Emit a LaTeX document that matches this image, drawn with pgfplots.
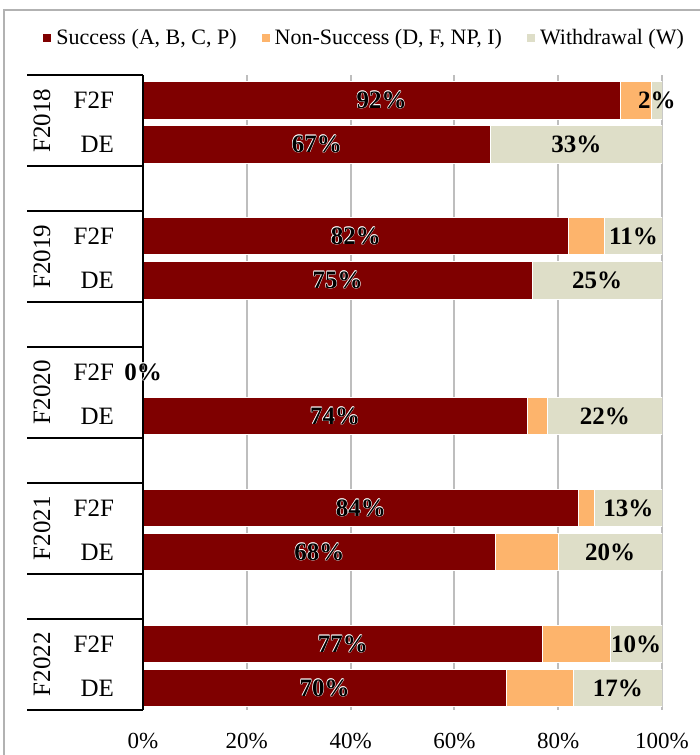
\documentclass[border=0pt]{standalone}
\usepackage{pgfplots}
\pgfplotsset{compat=1.18}
\usepackage{pgfplotstable}
\usepackage{fontspec}
\setmainfont{Liberation Serif}

\definecolor{succ}{HTML}{7F0000}
\definecolor{nons}{HTML}{FDB46C}
\definecolor{wdr}{HTML}{DEDEC8}
\definecolor{gridc}{HTML}{BEBEBE}

% black text with a thin white halo, as on the success bars
\newcommand\gl[3]{\rlap{\kern#1\raisebox{#2}{\textcolor{white}{#3}}}}
\newcommand\glow[1]{%
  \gl{-0.3pt}{0pt}{#1}\gl{0pt}{0.3pt}{#1}\gl{-0.22pt}{0.22pt}{#1}%
  \gl{0.2pt}{0pt}{#1}\gl{0pt}{-0.2pt}{#1}%
  \textcolor{black}{#1}}

% pos: bar position (F2F, DE per term); S success, N non-success, W withdrawal (%)
\pgfplotstableread{
pos   S  N  W
0     92 6  2
1     67 0  33
3.09  82 7  11
4.09  75 0  25
6.18  0  0  0
7.18  74 4  22
9.27  84 3  13
10.27 68 12 20
12.36 77 13 10
13.36 70 13 17
}\results

\pgfplotsset{
  chartbox/.style={
    at={(O)}, anchor=south west,
    scale only axis, width=259.5pt, height=317.5pt,
    xmin=0, xmax=100, ymin=-0.57, ymax=13.86, y dir=reverse,
  },
}

\begin{document}
\begin{tikzpicture}
\begin{scope}[x=0.5pt,y=-0.5pt]
  \coordinate (O) at (143,710);
\end{scope}

\begin{axis}[
  chartbox,
  xbar stacked, bar width=0.86,
  axis line style={draw=none}, major tick length=0,
  xtick={0,20,...,100}, ytick=\empty,
  xticklabel={\pgfmathprintnumber{\tick}\%},
  /pgf/number format/assume math mode=true,
  tick label style={font=\fontsize{11.5}{13}\selectfont},
  xticklabel style={yshift=-8pt},
  xmajorgrids, grid style={gridc, line width=1pt},
  legend style={at={(0.428,1.058)}, anchor=center, draw=none, fill=none,
    legend columns=3, font=\fontsize{11}{13}\selectfont,
    /tikz/every even column/.append style={column sep=10pt}},
  legend image code/.code={\fill[#1] (0pt,-2.3pt) rectangle (4.5pt,2.3pt);},
  every axis plot/.append style={draw=white, line width=0.5pt},
]
\addplot[fill=succ] table[x=S, y=pos] {\results};
\addplot[fill=nons] table[x=N, y=pos] {\results};
\addplot[fill=wdr]  table[x=W, y=pos] {\results};
\legend{{Success (A, B, C, P)}, {Non-Success (D, F, NP, I)}, {Withdrawal (W)}}
\end{axis}

\begin{scope}[x=0.5pt,y=-0.5pt]
  \draw[gray!60, line width=0.6pt] (4,770) -- (4,10) -- (710,10);
  \foreach \p/\yr in {0/F2018, 3.09/F2019, 6.18/F2020, 9.27/F2021, 12.36/F2022} {
    \pgfmathsetmacro\c{100+44*\p}
    \draw[line width=1pt] (27,\c-25) -- (143,\c-25);
    \draw[line width=1pt] (27,\c+66) -- (143,\c+66);
    \node[rotate=90, font=\fontsize{12.5}{14}\selectfont] at (42,\c+20.5) {\yr};
    \node[anchor=east, font=\fontsize{12.5}{14}\selectfont] at (121,\c) {F2F};
    \node[anchor=east, font=\fontsize{12.5}{14}\selectfont] at (121,\c+44) {DE};
  }
  \draw[line width=1.2pt] (143,75) -- (143,710);
\end{scope}

\begin{axis}[chartbox, hide axis, clip=false,
  /pgf/number format/assume math mode=true]
\addplot[only marks, mark=*, mark size=0pt, mark options={draw=none, fill=none},
  point meta=explicit,
  nodes near coords={\glow{\pgfmathprintnumber{\pgfplotspointmeta}\%}},
  every node near coord/.append style={anchor=center, font=\fontsize{12.5}{14}\selectfont\bfseries}]
  table[x expr=\thisrow{S}/2, y=pos, meta=S] {\results};
\addplot[only marks, mark=*, mark size=0pt, mark options={draw=none, fill=none},
  point meta=explicit, skip coords between index={4}{5},
  nodes near coords={\pgfmathprintnumber{\pgfplotspointmeta}\%},
  every node near coord/.append style={anchor=center, font=\fontsize{12.5}{14}\selectfont\bfseries}]
  table[x expr=100-\thisrow{W}/2, y=pos, meta=W] {\results};
\end{axis}

\pgfresetboundingbox
\begin{scope}[x=0.5pt,y=-0.5pt]
  \path[use as bounding box] (0,0) rectangle (700,755);
\end{scope}
\end{tikzpicture}
\end{document}
